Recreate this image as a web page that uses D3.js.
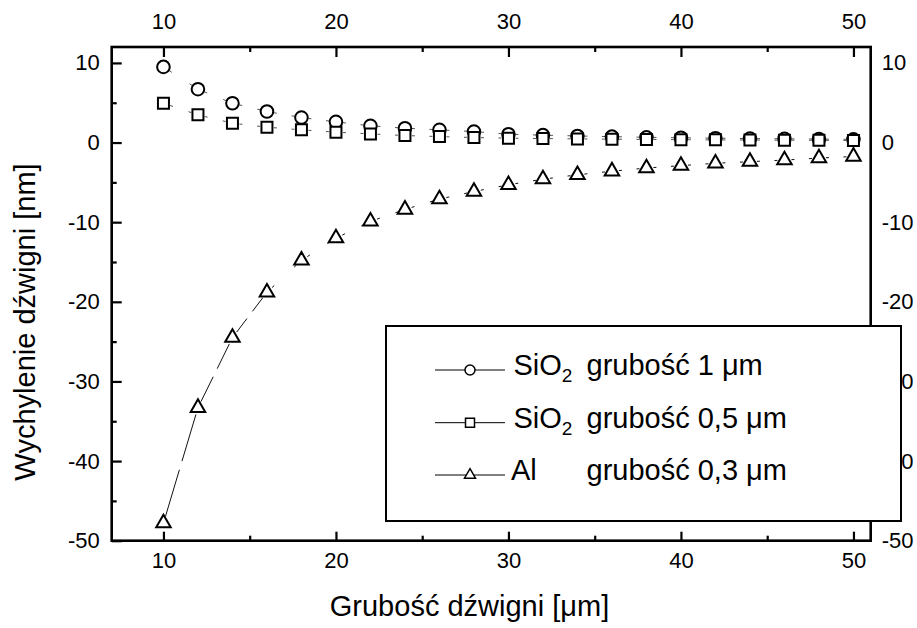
<html>
<head>
<meta charset="utf-8">
<style>
body { margin:0; background:white; }
svg { display:block; }
text { font-family:"Liberation Sans", Arial, sans-serif; fill:black; }
</style>
</head>
<body>
<svg id="plot"></svg>
<script src="https://d3js.org/d3.v7.min.js"></script>
<script>

// lever length [um]
var lengthsUm = [10,12,14,16,18,20,22,24,26,28,30,32,34,36,38,40,42,44,46,48,50];

// deflection [nm]
var sio2Thick = [9.5,6.7,4.94,3.9,3.14,2.6,2.1,1.8,1.6,1.38,1.05,0.93,0.83,0.74,0.66,0.6,0.55,0.5,0.47,0.44,0.4];
var sio2Thin = [4.94,3.48,2.43,1.93,1.6,1.3,1.09,0.88,0.75,0.63,0.55,0.5,0.46,0.42,0.39,0.36,0.34,0.32,0.3,0.28,0.26];
var alLayer = [-47.8,-33.3,-24.5,-18.8,-14.8,-12.0,-9.9,-8.4,-7.1,-6.15,-5.3,-4.6,-4.05,-3.6,-3.2,-2.9,-2.6,-2.4,-2.2,-1.95,-1.75];

var xMajor = [10,20,30,40,50];
var xMinor = [15,25,35,45];
var yMajor = [-50,-40,-30,-20,-10,0,10];
var yMinor = [-45,-35,-25,-15,-5,5];

var seriesNames = ["SiO2 1","SiO2 0.5","Al"];
var legendMaterial = ["SiO", "SiO", "Al"];
var legendSub = ["2", "2", ""];
var legendThickness = ["grubość 1 μm", "grubość 0,5 μm", "grubość 0,3 μm"];
var seriesShapes = ["circle","square","triangle"];

var screen = {width:917, height:628};
var frame = {left:111.7, right:870.7, top:47, bottom:540.7};

var svg = d3.select("#plot")
    .attr("width",screen.width)
    .attr("height",screen.height);

var xScale = d3.scaleLinear()
    .domain([7,51])
    .range([frame.left,frame.right]);

var yScale = d3.scaleLinear()
    .domain([-50,12])
    .range([frame.bottom,frame.top]);

var tickFont = "22px";

// plain hyphen for negatives, like the original
var plainNum = function(d){ return String(d); };

var styleAxis = function(g)
{
    g.select(".domain").remove();
    g.selectAll(".tick line")
        .attr("stroke","black")
        .attr("stroke-width",2.2);
    g.selectAll(".tick text")
        .style("font-size",tickFont)
        .style("font-family","'Liberation Sans', Arial, sans-serif");
}

// bottom axis
svg.append("g")
    .attr("transform","translate(0,"+frame.bottom+")")
    .call(d3.axisBottom(xScale).tickValues(xMajor).tickSize(-9).tickPadding(12).tickFormat(plainNum))
    .call(styleAxis);
svg.append("g")
    .attr("transform","translate(0,"+frame.bottom+")")
    .call(d3.axisBottom(xScale).tickValues(xMinor).tickSize(-5).tickFormat(""))
    .call(styleAxis);

// top axis
svg.append("g")
    .attr("transform","translate(0,"+frame.top+")")
    .call(d3.axisTop(xScale).tickValues(xMajor).tickSize(-10).tickPadding(18).tickFormat(plainNum))
    .call(styleAxis);
svg.append("g")
    .attr("transform","translate(0,"+frame.top+")")
    .call(d3.axisTop(xScale).tickValues(xMinor).tickSize(-5).tickFormat(""))
    .call(styleAxis);

// left axis
svg.append("g")
    .attr("transform","translate("+frame.left+",0)")
    .call(d3.axisLeft(yScale).tickValues(yMajor).tickSize(-10).tickPadding(12).tickFormat(plainNum))
    .call(styleAxis);
svg.append("g")
    .attr("transform","translate("+frame.left+",0)")
    .call(d3.axisLeft(yScale).tickValues(yMinor).tickSize(-5).tickFormat(""))
    .call(styleAxis);

// right axis, labels only
svg.append("g")
    .attr("transform","translate("+frame.right+",0)")
    .call(d3.axisRight(yScale).tickValues(yMajor).tickSize(0).tickPadding(11).tickFormat(plainNum))
    .call(styleAxis);

// frame
svg.append("rect")
    .attr("x",frame.left)
    .attr("y",frame.top)
    .attr("width",frame.right-frame.left)
    .attr("height",frame.bottom-frame.top)
    .attr("fill","none")
    .attr("stroke","black")
    .attr("stroke-width",2.6);

// axis titles
svg.append("text")
    .attr("x",469.5)
    .attr("y",616)
    .attr("text-anchor","middle")
    .style("font-size","29px")
    .text("Grubość dźwigni [μm]");

svg.append("text")
    .attr("transform","translate(35,322) rotate(-90)")
    .attr("text-anchor","middle")
    .style("font-size","29px")
    .text("Wychylenie dźwigni [nm]");

// marker path generator
var markerPath = function(shape,size)
{
    if(shape=="circle")
    {
        var r = size/2;
        return "M"+(-r)+",0A"+r+","+r+" 0 1,0 "+r+",0A"+r+","+r+" 0 1,0 "+(-r)+",0Z";
    }
    if(shape=="square")
    {
        var h = size/2;
        return "M"+(-h)+","+(-h)+"H"+h+"V"+h+"H"+(-h)+"Z";
    }
    var s = size;
    var th = s*Math.sqrt(3)/2;
    return "M0,"+(-th*2/3)+"L"+(s/2)+","+(th/3)+"L"+(-s/2)+","+(th/3)+"Z";
}

var allSeries = [sio2Thick,sio2Thin,alLayer];
var markerSize = [12.6,11,14.5];

var dataLayer = svg.append("g");

allSeries.forEach(function(values,si)
{
    var pts = values.map(function(v,i)
    {
        return {x:xScale(lengthsUm[i]), y:yScale(v)};
    });

    // connecting segments, dashed near the markers
    var segs = [];
    for(var i=0;i<pts.length-1;i++)
    {
        segs.push([pts[i],pts[i+1]]);
    }
    dataLayer.append("g")
        .selectAll("line")
        .data(segs)
        .enter()
        .append("line")
        .attr("x1",function(d){return d[0].x;})
        .attr("y1",function(d){return d[0].y;})
        .attr("x2",function(d){return d[1].x;})
        .attr("y2",function(d){return d[1].y;})
        .attr("stroke",si==2 ? "#111" : "#555")
        .attr("stroke-width",1)
        .attr("stroke-dasharray",function(d)
        {
            var L = Math.hypot(d[1].x-d[0].x,d[1].y-d[0].y);
            var g = 7;
            var rest = L-2*g;
            if(rest>40)
            {
                var dl = (rest-9)/2;
                return [0,g,dl,9,dl,g+20].join(",");
            }
            return [0,g,3,Math.max(rest-6,0),3,g+20].join(",");
        });

    dataLayer.append("g")
        .selectAll("path")
        .data(pts)
        .enter()
        .append("path")
        .attr("transform",function(d){return "translate("+d.x+","+d.y+")";})
        .attr("d",markerPath(seriesShapes[si],markerSize[si]))
        .attr("fill","white")
        .attr("stroke","black")
        .attr("stroke-width",2);
});

// legend
var legend = svg.append("g");

legend.append("rect")
    .attr("x",386)
    .attr("y",326)
    .attr("width",515)
    .attr("height",195)
    .attr("fill","white")
    .attr("stroke","black")
    .attr("stroke-width",2);

var rowY = [370,422.7,475];
var legendMarker = [10,9,11];

seriesNames.forEach(function(name,i)
{
    var row = legend.append("g")
        .attr("transform","translate(0,"+rowY[i]+")");

    row.append("line")
        .attr("x1",435)
        .attr("x2",505)
        .attr("stroke","black")
        .attr("stroke-width",1);

    row.append("path")
        .attr("transform","translate(470,0)")
        .attr("d",markerPath(seriesShapes[i],legendMarker[i]))
        .attr("fill","white")
        .attr("stroke","black")
        .attr("stroke-width",1.5);

    var t = row.append("text")
        .attr("x",i==2 ? 511 : 513.5)
        .attr("y",5)
        .style("font-size","29px")
        .text(legendMaterial[i]);
    if(legendSub[i]!="")
    {
        t.append("tspan")
            .attr("dy",7)
            .style("font-size","19px")
            .text(legendSub[i]);
    }

    row.append("text")
        .attr("x",586.5)
        .attr("y",5)
        .style("font-size","29px")
        .text(legendThickness[i]);
});

</script>
</body>
</html>
